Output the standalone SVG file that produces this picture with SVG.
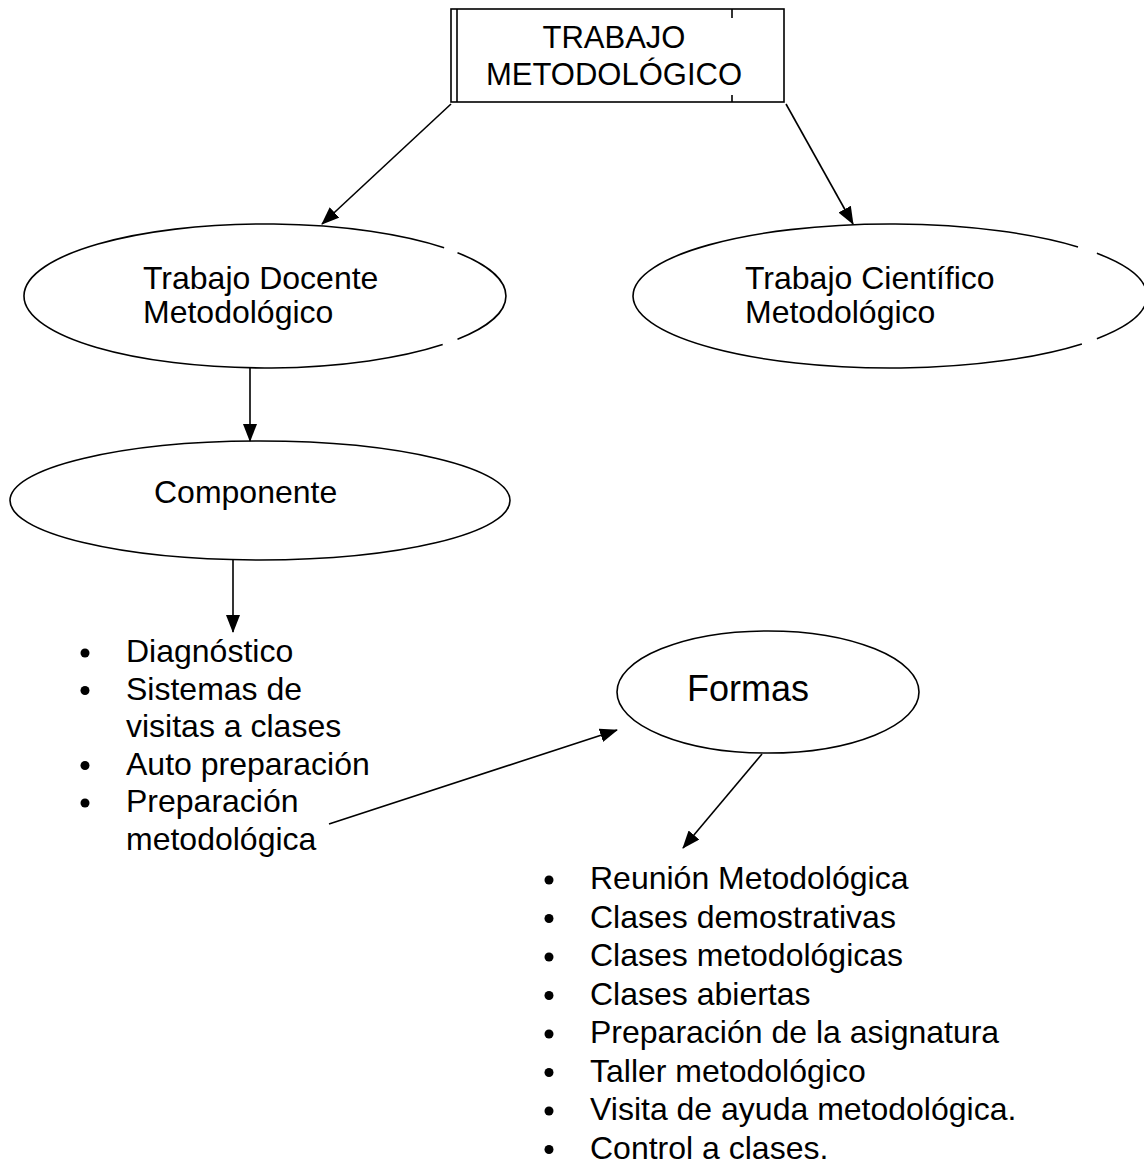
<svg xmlns="http://www.w3.org/2000/svg" width="1144" height="1166" viewBox="0 0 1144 1166">
<style>
.s{fill:none;stroke:#000;stroke-width:1.6}
.t{font-family:"Liberation Sans",Arial,sans-serif;font-size:32px;fill:#000}
.c{stroke:#000;stroke-width:1.6;fill:none;marker-end:url(#ah)}
</style>
<defs>
<marker id="ah" markerUnits="userSpaceOnUse" markerWidth="18" markerHeight="14" refX="17" refY="7" orient="auto">
<path d="M0,0 L18,7 L0,14 z" fill="#000"/>
</marker>
</defs>
<rect width="1144" height="1166" fill="#fff"/>
<g id="connectors">
<line class="c" x1="451" y1="104" x2="322" y2="224"/>
<line class="c" x1="786" y1="104" x2="853" y2="224"/>
<line class="c" x1="250" y1="368" x2="250" y2="441"/>
<line class="c" x1="233" y1="560" x2="233" y2="632"/>
<line class="c" x1="329" y1="824" x2="617" y2="730"/>
<line class="c" x1="762" y1="754" x2="683" y2="848"/>
</g>
<g id="n-trabajo-metodologico">
<rect class="s" x="451" y="9" width="333" height="93"/>
<line class="s" x1="457" y1="9" x2="457" y2="102"/>
<line class="s" x1="732" y1="9" x2="732" y2="18"/>
<line class="s" x1="732" y1="95" x2="732" y2="102"/>
<text class="t" style="font-size:31px" x="614" y="48" text-anchor="middle">TRABAJO</text>
<text class="t" style="font-size:31px" x="614" y="85" text-anchor="middle">METODOLÓGICO</text>
</g>
<g id="n-docente">
<path class="s" d="M457.5,252.7 A241,72 0 0 1 457.5,339.3 M442.7,344.6 A241,72 0 1 1 444.1,247.8"/>
<text class="t" x="143" y="289">Trabajo Docente</text>
<text class="t" x="143" y="323">Metodológico</text>
</g>
<g id="n-cientifico">
<path class="s" d="M1096.9,253.3 A257,72 0 0 1 1096.9,338.7 M1081.9,343.9 A257,72 0 1 1 1078,246.9"/>
<text class="t" x="745" y="289">Trabajo Científico</text>
<text class="t" x="745" y="323">Metodológico</text>
</g>
<g id="n-componente">
<ellipse class="s" cx="260" cy="500.5" rx="250" ry="59.5"/>
<text class="t" x="154" y="503">Componente</text>
</g>
<g id="n-lista-componente">
<circle cx="85" cy="653" r="4.5"/>
<circle cx="85" cy="690.5" r="4.5"/>
<circle cx="85" cy="765.5" r="4.5"/>
<circle cx="85" cy="803" r="4.5"/>
<text class="t" x="126" y="662">Diagnóstico</text>
<text class="t" x="126" y="699.5">Sistemas de</text>
<text class="t" x="126" y="737">visitas a clases</text>
<text class="t" x="126" y="774.5">Auto preparación</text>
<text class="t" x="126" y="812">Preparación</text>
<text class="t" x="126" y="849.5">metodológica</text>
</g>
<g id="n-formas">
<ellipse class="s" cx="768" cy="692" rx="151" ry="61"/>
<text class="t" style="font-size:36px" x="687" y="701">Formas</text>
</g>
<g id="n-lista-formas">
<circle cx="549" cy="880" r="4.5"/>
<circle cx="549" cy="918.5" r="4.5"/>
<circle cx="549" cy="957" r="4.5"/>
<circle cx="549" cy="995.5" r="4.5"/>
<circle cx="549" cy="1034" r="4.5"/>
<circle cx="549" cy="1072.5" r="4.5"/>
<circle cx="549" cy="1111" r="4.5"/>
<circle cx="549" cy="1149.5" r="4.5"/>
<text class="t" x="590" y="889">Reunión Metodológica</text>
<text class="t" x="590" y="927.5">Clases demostrativas</text>
<text class="t" x="590" y="966">Clases metodológicas</text>
<text class="t" x="590" y="1004.5">Clases abiertas</text>
<text class="t" x="590" y="1043">Preparación de la asignatura</text>
<text class="t" x="590" y="1081.5">Taller metodológico</text>
<text class="t" x="590" y="1120">Visita de ayuda metodológica.</text>
<text class="t" x="590" y="1158.5">Control a clases.</text>
</g>
</svg>
